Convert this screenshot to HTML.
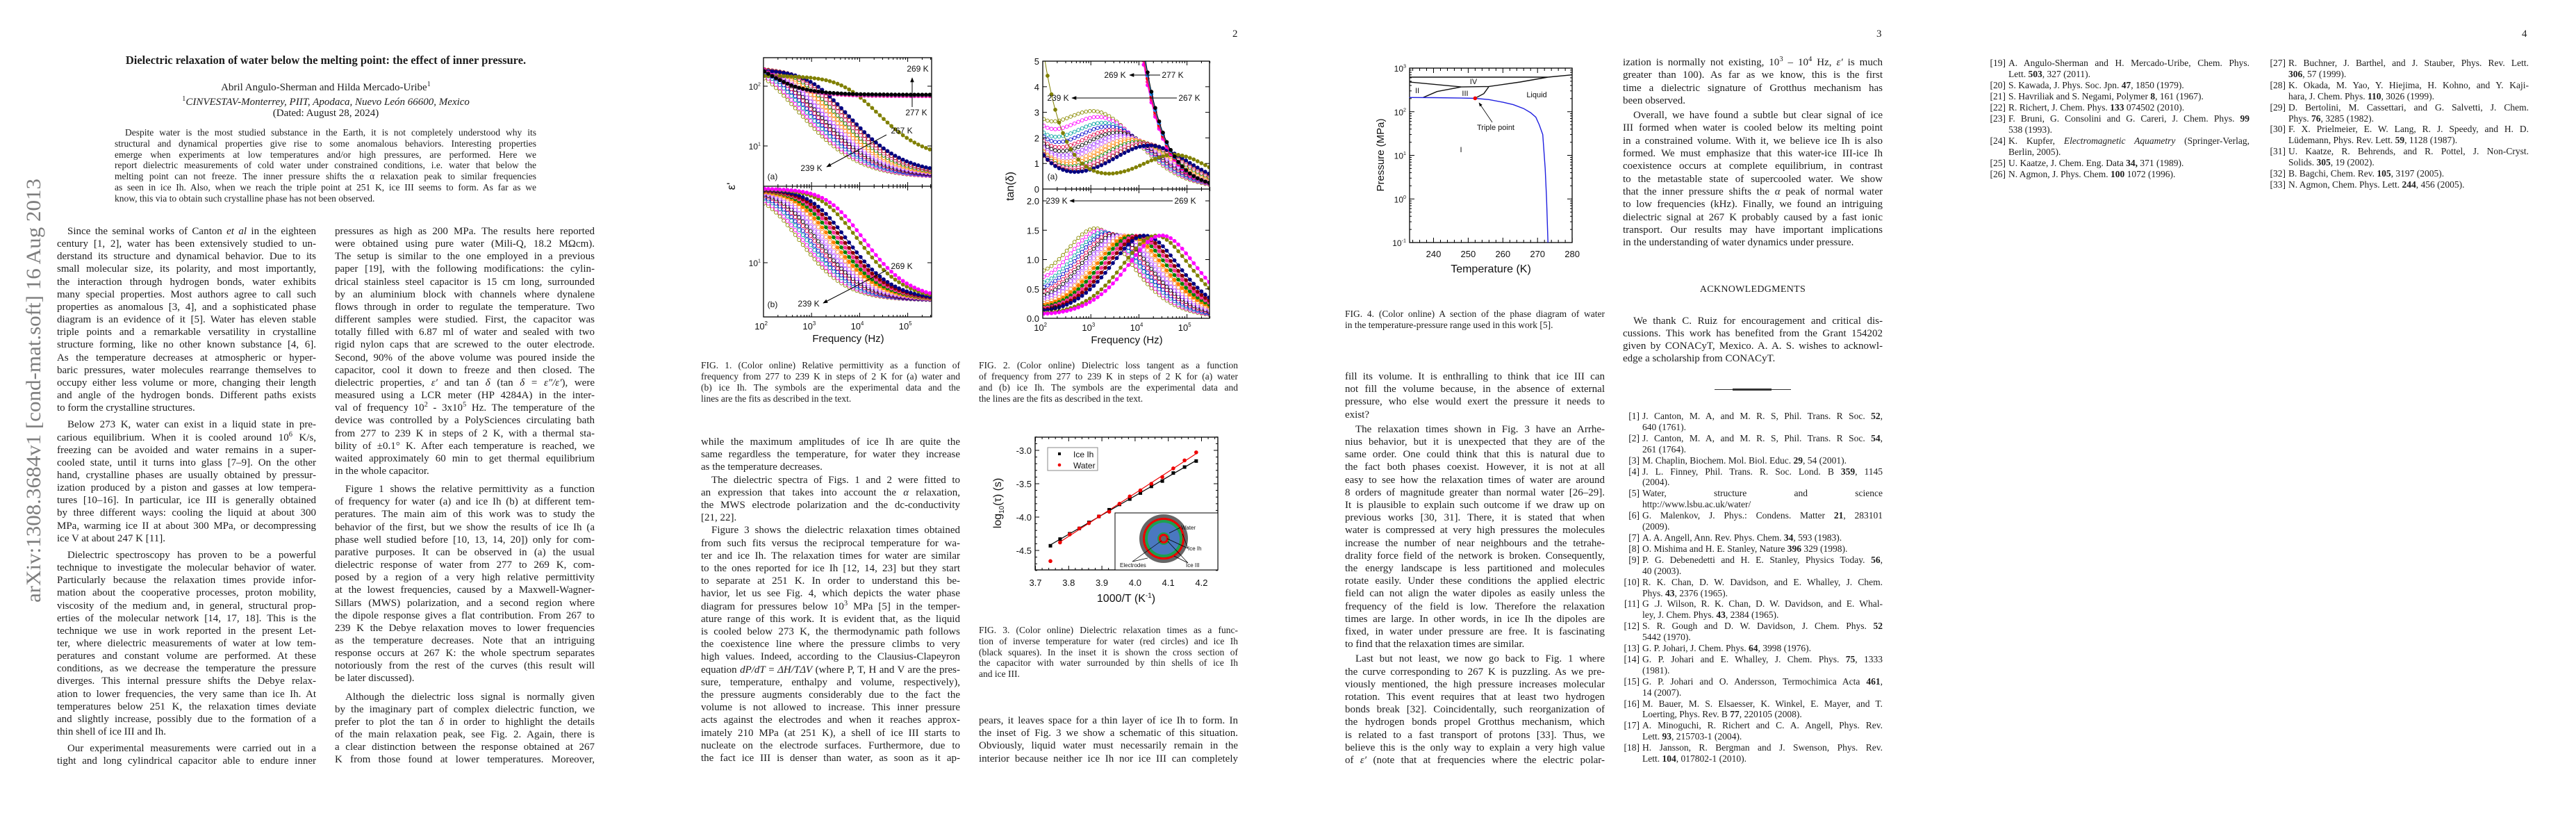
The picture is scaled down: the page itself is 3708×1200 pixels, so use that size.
<!DOCTYPE html>
<html><head><meta charset="utf-8"><title>Dielectric relaxation of water below the melting point</title>
<style>
body{margin:0;width:3708px;height:1200px;background:#fff;position:relative;overflow:hidden;font-family:"Liberation Serif",serif;color:#1c1c1c}
.col{position:absolute}
.col .p>div,.ref>div{white-space:nowrap;text-align:justify;text-align-last:justify;overflow:hidden}
.col .p>div.e,.ref>div.e{text-align-last:left}
.col .p>div.i{text-indent:15px}
.body{font-size:15px;line-height:18.15px}
.cap{font-size:13.5px;line-height:16px}
.refs{font-size:13.5px;line-height:15.9px}
.ref{position:relative;padding-left:28px}
.ref .n{position:absolute;left:0;top:0;width:24px;text-align:right}
.abs{position:absolute;white-space:nowrap}
sup{font-size:70%;line-height:0}
#charts{position:absolute;left:0;top:0}
#charts text{font-family:"Liberation Sans",sans-serif;fill:#111}
</style></head><body>

<svg style="position:absolute;left:0;top:0" width="90" height="1200">
<text x="0" y="0" transform="translate(58,867) rotate(-90)" font-family="Liberation Serif" font-size="30" fill="#7d7d7d" textLength="610" lengthAdjust="spacingAndGlyphs">arXiv:1308.3684v1  [cond-mat.soft]  16 Aug 2013</text>
</svg>

<div class="abs" style="left:0;width:938px;text-align:center;top:77px;font-size:16.5px;font-weight:bold">Dielectric relaxation of water below the melting point: the effect of inner pressure.</div>
<div class="abs" style="left:0;width:938px;text-align:center;top:118px;font-size:15px">Abril Angulo-Sherman and Hilda Mercado-Uribe<sup>1</sup></div>
<div class="abs" style="left:0;width:938px;text-align:center;top:139px;font-size:15px"><sup>1</sup><i>CINVESTAV-Monterrey, PIIT, Apodaca, Nuevo León 66600, Mexico</i></div>
<div class="abs" style="left:0;width:938px;text-align:center;top:155px;font-size:15px">(Dated: August 28, 2024)</div>

<div class="col" style="left:165px;top:183px;width:607px;font-size:13.5px;line-height:15.8px"><div class="p">
<div class="i">Despite water is the most studied substance in the Earth, it is not completely understood why its</div>
<div>structural and dynamical properties give rise to some anomalous behaviors. Interesting properties</div>
<div>emerge when experiments at low temperatures and/or high pressures, are performed. Here we</div>
<div>report dielectric measurements of cold water under constrained conditions, i.e. water that below the</div>
<div>melting point can not freeze. The inner pressure shifts the α relaxation peak to similar frequencies</div>
<div>as seen in ice Ih. Also, when we reach the triple point at 251 K, ice III seems to form. As far as we</div>
<div class="e">know, this via to obtain such crystalline phase has not been observed.</div>
</div></div>

<div class="col body" style="left:82px;top:324px;width:373px">
<div class="p">
<div class="i">Since the seminal works of Canton <i>et al</i> in the eighteen</div>
<div>century [1, 2], water has been extensively studied to un-</div>
<div>derstand its structure and dynamical behavior. Due to its</div>
<div>small molecular size, its polarity, and most importantly,</div>
<div>the interaction through hydrogen bonds, water exhibits</div>
<div>many special properties. Most authors agree to call such</div>
<div>properties as anomalous [3, 4], and a sophisticated phase</div>
<div>diagram is an evidence of it [5]. Water has eleven stable</div>
<div>triple points and a remarkable versatility in crystalline</div>
<div>structure forming, like no other known substance [4, 6].</div>
<div>As the temperature decreases at atmospheric or hyper-</div>
<div>baric pressures, water molecules rearrange themselves to</div>
<div>occupy either less volume or more, changing their length</div>
<div>and angle of the hydrogen bonds. Different paths exists</div>
<div class="e">to form the crystalline structures.</div></div>
<div class="p" style="margin-top:6px">
<div class="i">Below 273 K, water can exist in a liquid state in pre-</div>
<div>carious equilibrium. When it is cooled around 10<sup>6</sup> K/s,</div>
<div>freezing can be avoided and water remains in a super-</div>
<div>cooled state, until it turns into glass [7–9]. On the other</div>
<div>hand, crystalline phases are usually obtained by pressur-</div>
<div>ization produced by a piston and gasses at low tempera-</div>
<div>tures [10–16]. In particular, ice III is generally obtained</div>
<div>by three different ways: cooling the liquid at about 300</div>
<div>MPa, warming ice II at about 300 MPa, or decompressing</div>
<div class="e">ice V at about 247 K [11].</div></div>
<div class="p" style="margin-top:6px">
<div class="i">Dielectric spectroscopy has proven to be a powerful</div>
<div>technique to investigate the molecular behavior of water.</div>
<div>Particularly because the relaxation times provide infor-</div>
<div>mation about the cooperative processes, proton mobility,</div>
<div>viscosity of the medium and, in general, structural prop-</div>
<div>erties of the molecular network [14, 17, 18]. This is the</div>
<div>technique we use in work reported in the present Let-</div>
<div>ter, where dielectric measurements of water at low tem-</div>
<div>peratures and constant volume are performed. At these</div>
<div>conditions, as we decrease the temperature the pressure</div>
<div>diverges. This internal pressure shifts the Debye relax-</div>
<div>ation to lower frequencies, the very same than ice Ih. At</div>
<div>temperatures below 251 K, the relaxation times deviate</div>
<div>and slightly increase, possibly due to the formation of a</div>
<div class="e">thin shell of ice III and Ih.</div></div>
<div class="p" style="margin-top:6px">
<div class="i">Our experimental measurements were carried out in a</div>
<div>tight and long cylindrical capacitor able to endure inner</div></div>
</div>

<div class="col body" style="left:482px;top:324px;width:374px">
<div class="p">
<div>pressures as high as 200 MPa. The results here reported</div>
<div>were obtained using pure water (Mili-Q, 18.2 MΩcm).</div>
<div>The setup is similar to the one employed in a previous</div>
<div>paper [19], with the following modifications: the cylin-</div>
<div>drical stainless steel capacitor is 15 cm long, surrounded</div>
<div>by an aluminium block with channels where dynalene</div>
<div>flows through in order to regulate the temperature. Two</div>
<div>different samples were studied. First, the capacitor was</div>
<div>totally filled with 6.87 ml of water and sealed with two</div>
<div>rigid nylon caps that are screwed to the outer electrode.</div>
<div>Second, 90% of the above volume was poured inside the</div>
<div>capacitor, cool it down to freeze and then closed. The</div>
<div>dielectric properties, <i>ε′</i> and tan <i>δ</i> (tan <i>δ</i> = <i>ε″/ε′</i>), were</div>
<div>measured using a LCR meter (HP 4284A) in the inter-</div>
<div>val of frequency 10<sup>2</sup> - 3x10<sup>5</sup> Hz. The temperature of the</div>
<div>device was controlled by a PolySciences circulating bath</div>
<div>from 277 to 239 K in steps of 2 K, with a thermal sta-</div>
<div>bility of ±0.1° K. After each temperature is reached, we</div>
<div>waited approximately 60 min to get thermal equilibrium</div>
<div class="e">in the whole capacitor.</div></div>
<div class="p" style="margin-top:8px">
<div class="i">Figure 1 shows the relative permittivity as a function</div>
<div>of frequency for water (a) and ice Ih (b) at different tem-</div>
<div>peratures. The main aim of this work was to study the</div>
<div>behavior of the first, but we show the results of ice Ih (a</div>
<div>phase well studied before [10, 13, 14, 20]) only for com-</div>
<div>parative purposes. It can be observed in (a) the usual</div>
<div>dielectric response of water from 277 to 269 K, com-</div>
<div>posed by a region of a very high relative permittivity</div>
<div>at the lowest frequencies, caused by a Maxwell-Wagner-</div>
<div>Sillars (MWS) polarization, and a second region where</div>
<div>the dipole response gives a flat contribution. From 267 to</div>
<div>239 K the Debye relaxation moves to lower frequencies</div>
<div>as the temperature decreases. Note that an intriguing</div>
<div>response occurs at 267 K: the whole spectrum separates</div>
<div>notoriously from the rest of the curves (this result will</div>
<div class="e">be later discussed).</div></div>
<div class="p" style="margin-top:8px">
<div class="i">Although the dielectric loss signal is normally given</div>
<div>by the imaginary part of complex dielectric function, we</div>
<div>prefer to plot the tan <i>δ</i> in order to highlight the details</div>
<div>of the main relaxation peak, see Fig. 2. Again, there is</div>
<div>a clear distinction between the response obtained at 267</div>
<div>K from those found at lower temperatures. Moreover,</div></div>
</div>

<div class="abs" style="left:1774px;top:41px;font-size:15px">2</div>
<div class="abs" style="left:2701px;top:41px;font-size:15px">3</div>
<div class="abs" style="left:3630px;top:41px;font-size:15px">4</div>

<div class="col cap" style="left:1009px;top:518px;width:373px"><div class="p">
<div>FIG. 1. (Color online) Relative permittivity as a function of</div>
<div>frequency from 277 to 239 K in steps of 2 K for (a) water and</div>
<div>(b) ice Ih. The symbols are the experimental data and the</div>
<div class="e">lines are the fits as described in the text.</div></div></div>
<div class="col cap" style="left:1409px;top:518px;width:373px"><div class="p">
<div>FIG. 2. (Color online) Dielectric loss tangent as a function</div>
<div>of frequency from 277 to 239 K in steps of 2 K for (a) water</div>
<div>and (b) ice Ih. The symbols are the experimental data and</div>
<div class="e">the lines are the fits as described in the text.</div></div></div>

<div class="col body" style="left:1009px;top:627px;width:373px;line-height:18.2px">
<div class="p">
<div>while the maximum amplitudes of ice Ih are quite the</div>
<div>same regardless the temperature, for water they increase</div>
<div class="e">as the temperature decreases.</div></div>
<div class="p">
<div class="i">The dielectric spectra of Figs. 1 and 2 were fitted to</div>
<div>an expression that takes into account the <i>α</i> relaxation,</div>
<div>the MWS electrode polarization and the dc-conductivity</div>
<div class="e">[21, 22].</div></div>
<div class="p">
<div class="i">Figure 3 shows the dielectric relaxation times obtained</div>
<div>from such fits versus the reciprocal temperature for wa-</div>
<div>ter and ice Ih. The relaxation times for water are similar</div>
<div>to the ones reported for ice Ih [12, 14, 23] but they start</div>
<div>to separate at 251 K. In order to understand this be-</div>
<div>havior, let us see Fig. 4, which depicts the water phase</div>
<div>diagram for pressures below 10<sup>3</sup> MPa [5] in the temper-</div>
<div>ature range of this work. It is evident that, as the liquid</div>
<div>is cooled below 273 K, the thermodynamic path follows</div>
<div>the coexistence line where the pressure climbs to very</div>
<div>high values. Indeed, according to the Clausius-Clapeyron</div>
<div>equation <i>dP/dT</i> = <i>ΔH/TΔV</i> (where P, T, H and V are the pres-</div>
<div>sure, temperature, enthalpy and volume, respectively),</div>
<div>the pressure augments considerably due to the fact the</div>
<div>volume is not allowed to increase. This inner pressure</div>
<div>acts against the electrodes and when it reaches approx-</div>
<div>imately 210 MPa (at 251 K), a shell of ice III starts to</div>
<div>nucleate on the electrode surfaces. Furthermore, due to</div>
<div>the fact ice III is denser than water, as soon as it ap-</div></div>
</div>

<div class="col cap" style="left:1409px;top:899px;width:373px;line-height:15.8px"><div class="p">
<div>FIG. 3. (Color online) Dielectric relaxation times as a func-</div>
<div>tion of inverse temperature for water (red circles) and ice Ih</div>
<div>(black squares). In the inset it is shown the cross section of</div>
<div>the capacitor with water surrounded by thin shells of ice Ih</div>
<div class="e">and ice III.</div></div></div>

<div class="col body" style="left:1409px;top:1028px;width:373px;line-height:18.2px"><div class="p">
<div>pears, it leaves space for a thin layer of ice Ih to form. In</div>
<div>the inset of Fig. 3 we show a schematic of this situation.</div>
<div>Obviously, liquid water must necessarily remain in the</div>
<div>interior because neither ice Ih nor ice III can completely</div></div></div>

<div class="col cap" style="left:1936px;top:444px;width:374px"><div class="p">
<div>FIG. 4. (Color online) A section of the phase diagram of water</div>
<div class="e">in the temperature-pressure range used in this work [5].</div></div></div>

<div class="col body" style="left:1936px;top:533px;width:374px;line-height:18.2px">
<div class="p">
<div>fill its volume. It is enthralling to think that ice III can</div>
<div>not fill the volume because, in the absence of external</div>
<div>pressure, who else would exert the pressure it needs to</div>
<div class="e">exist?</div></div>
<div class="p" style="margin-top:3px">
<div class="i">The relaxation times shown in Fig. 3 have an Arrhe-</div>
<div>nius behavior, but it is unexpected that they are of the</div>
<div>same order. One could think that this is natural due to</div>
<div>the fact both phases coexist. However, it is not at all</div>
<div>easy to see how the relaxation times of water are around</div>
<div>8 orders of magnitude greater than normal water [26–29].</div>
<div>It is plausible to explain such outcome if we draw up on</div>
<div>previous works [30, 31]. There, it is stated that when</div>
<div>water is compressed at very high pressures the molecules</div>
<div>increase the number of near neighbours and the tetrahe-</div>
<div>drality force field of the network is broken. Consequently,</div>
<div>the energy landscape is less partitioned and molecules</div>
<div>rotate easily. Under these conditions the applied electric</div>
<div>field can not align the water dipoles as easily unless the</div>
<div>frequency of the field is low. Therefore the relaxation</div>
<div>times are large. In other words, in ice Ih the dipoles are</div>
<div>fixed, in water under pressure are free. It is fascinating</div>
<div class="e">to find that the relaxation times are similar.</div></div>
<div class="p" style="margin-top:3px">
<div class="i">Last but not least, we now go back to Fig. 1 where</div>
<div>the curve corresponding to 267 K is puzzling. As we pre-</div>
<div>viously mentioned, the high pressure increases molecular</div>
<div>rotation. This event requires that at least two hydrogen</div>
<div>bonds break [32]. Coincidentally, such reorganization of</div>
<div>the hydrogen bonds propel Grotthus mechanism, which</div>
<div>is related to a fast transport of protons [33]. Thus, we</div>
<div>believe this is the only way to explain a very high value</div>
<div>of <i>ε′</i> (note that at frequencies where the electric polar-</div></div>
</div>

<div class="col body" style="left:2336px;top:81px;width:374px;line-height:18.3px">
<div class="p">
<div>ization is normally not existing, 10<sup>3</sup> – 10<sup>4</sup> Hz, <i>ε′</i> is much</div>
<div>greater than 100). As far as we know, this is the first</div>
<div>time a dielectric signature of Grotthus mechanism has</div>
<div class="e">been observed.</div></div>
<div class="p" style="margin-top:3px">
<div class="i">Overall, we have found a subtle but clear signal of ice</div>
<div>III formed when water is cooled below its melting point</div>
<div>in a constrained volume. With it, we believe ice Ih is also</div>
<div>formed. We must emphasize that this water-ice III-ice Ih</div>
<div>coexistence occurs at complete equilibrium, in contrast</div>
<div>to the metastable state of supercooled water. We show</div>
<div>that the inner pressure shifts the <i>α</i> peak of normal water</div>
<div>to low frequencies (kHz). Finally, we found an intriguing</div>
<div>dielectric signal at 267 K probably caused by a fast ionic</div>
<div>transport. Our results may have important implications</div>
<div class="e">in the understanding of water dynamics under pressure.</div></div>
</div>

<div class="abs" style="left:2336px;width:374px;text-align:center;top:409px;font-size:14px;letter-spacing:0.3px">ACKNOWLEDGMENTS</div>
<div class="col body" style="left:2336px;top:453px;width:374px;line-height:18px"><div class="p">
<div class="i">We thank C. Ruiz for encouragement and critical dis-</div>
<div>cussions. This work has benefited from the Grant 154202</div>
<div>given by CONACyT, Mexico. A. A. S. wishes to acknowl-</div>
<div class="e">edge a scholarship from CONACyT.</div></div></div>
<div style="position:absolute;left:2468px;top:560px;width:110px;height:1px;background:#333"></div>
<div style="position:absolute;left:2494px;top:559px;width:56px;height:3px;background:#333"></div>

<div class="col refs" style="left:2336px;top:591px;width:374px">
<div class="ref"><span class="n">[1]</span><div>J. Canton, M. A, and M. R. S, Phil. Trans. R Soc. <b>52</b>,</div><div class="e">640 (1761).</div></div>
<div class="ref"><span class="n">[2]</span><div>J. Canton, M. A, and M. R. S, Phil. Trans. R Soc. <b>54</b>,</div><div class="e">261 (1764).</div></div>
<div class="ref"><span class="n">[3]</span><div class="e">M. Chaplin, Biochem. Mol. Biol. Educ. <b>29</b>, 54 (2001).</div></div>
<div class="ref"><span class="n">[4]</span><div>J. L. Finney, Phil. Trans. R. Soc. Lond. B <b>359</b>, 1145</div><div class="e">(2004).</div></div>
<div class="ref"><span class="n">[5]</span><div>Water, structure and science</div><div class="e">http://www.lsbu.ac.uk/water/</div></div>
<div class="ref"><span class="n">[6]</span><div>G. Malenkov, J. Phys.: Condens. Matter <b>21</b>, 283101</div><div class="e">(2009).</div></div>
<div class="ref"><span class="n">[7]</span><div class="e">A. A. Angell, Ann. Rev. Phys. Chem. <b>34</b>, 593 (1983).</div></div>
<div class="ref"><span class="n">[8]</span><div class="e">O. Mishima and H. E. Stanley, Nature <b>396</b> 329 (1998).</div></div>
<div class="ref"><span class="n">[9]</span><div>P. G. Debenedetti and H. E. Stanley, Physics Today. <b>56</b>,</div><div class="e">40 (2003).</div></div>
<div class="ref"><span class="n">[10]</span><div>R. K. Chan, D. W. Davidson, and E. Whalley, J. Chem.</div><div class="e">Phys. <b>43</b>, 2376 (1965).</div></div>
<div class="ref"><span class="n">[11]</span><div>G .J. Wilson, R. K. Chan, D. W. Davidson, and E. Whal-</div><div class="e">ley, J. Chem. Phys. <b>43</b>, 2384 (1965).</div></div>
<div class="ref"><span class="n">[12]</span><div>S. R. Gough and D. W. Davidson, J. Chem. Phys. <b>52</b></div><div class="e">5442 (1970).</div></div>
<div class="ref"><span class="n">[13]</span><div class="e">G. P. Johari, J. Chem. Phys. <b>64</b>, 3998 (1976).</div></div>
<div class="ref"><span class="n">[14]</span><div>G. P. Johari and E. Whalley, J. Chem. Phys. <b>75</b>, 1333</div><div class="e">(1981).</div></div>
<div class="ref"><span class="n">[15]</span><div>G. P. Johari and O. Andersson, Termochimica Acta <b>461</b>,</div><div class="e">14 (2007).</div></div>
<div class="ref"><span class="n">[16]</span><div>M. Bauer, M. S. Elsaesser, K. Winkel, E. Mayer, and T.</div><div class="e">Loerting, Phys. Rev. B <b>77</b>, 220105 (2008).</div></div>
<div class="ref"><span class="n">[17]</span><div>A. Minoguchi, R. Richert and C. A. Angell, Phys. Rev.</div><div class="e">Lett. <b>93</b>, 215703-1 (2004).</div></div>
<div class="ref"><span class="n">[18]</span><div>H. Jansson, R. Bergman and J. Swenson, Phys. Rev.</div><div class="e">Lett. <b>104</b>, 017802-1 (2010).</div></div>
</div>

<div class="col refs" style="left:2863px;top:83px;width:375px;line-height:16px">
<div class="ref"><span class="n">[19]</span><div>A. Angulo-Sherman and H. Mercado-Uribe, Chem. Phys.</div><div class="e">Lett. <b>503</b>, 327 (2011).</div></div>
<div class="ref"><span class="n">[20]</span><div class="e">S. Kawada, J. Phys. Soc. Jpn. <b>47</b>, 1850 (1979).</div></div>
<div class="ref"><span class="n">[21]</span><div class="e">S. Havriliak and S. Negami, Polymer <b>8</b>, 161 (1967).</div></div>
<div class="ref"><span class="n">[22]</span><div class="e">R. Richert, J. Chem. Phys. <b>133</b> 074502 (2010).</div></div>
<div class="ref"><span class="n">[23]</span><div>F. Bruni, G. Consolini and G. Careri, J. Chem. Phys. <b>99</b></div><div class="e">538 (1993).</div></div>
<div class="ref"><span class="n">[24]</span><div>K. Kupfer, <i>Electromagnetic Aquametry</i> (Springer-Verlag,</div><div class="e">Berlin, 2005).</div></div>
<div class="ref"><span class="n">[25]</span><div class="e">U. Kaatze, J. Chem. Eng. Data <b>34,</b> 371 (1989).</div></div>
<div class="ref"><span class="n">[26]</span><div class="e">N. Agmon, J. Phys. Chem. <b>100</b> 1072 (1996).</div></div>
</div>
<div class="col refs" style="left:3266px;top:83px;width:374px;line-height:15.9px">
<div class="ref"><span class="n">[27]</span><div>R. Buchner, J. Barthel, and J. Stauber, Phys. Rev. Lett.</div><div class="e"><b>306</b>, 57 (1999).</div></div>
<div class="ref"><span class="n">[28]</span><div>K. Okada, M. Yao, Y. Hiejima, H. Kohno, and Y. Kaji-</div><div class="e">hara, J. Chem. Phys. <b>110</b>, 3026 (1999).</div></div>
<div class="ref"><span class="n">[29]</span><div>D. Bertolini, M. Cassettari, and G. Salvetti, J. Chem.</div><div class="e">Phys. <b>76</b>, 3285 (1982).</div></div>
<div class="ref"><span class="n">[30]</span><div>F. X. Prielmeier, E. W. Lang, R. J. Speedy, and H. D.</div><div class="e">Lüdemann, Phys. Rev. Lett. <b>59</b>, 1128 (1987).</div></div>
<div class="ref"><span class="n">[31]</span><div>U. Kaatze, R. Behrends, and R. Pottel, J. Non-Cryst.</div><div class="e">Solids. <b>305</b>, 19 (2002).</div></div>
<div class="ref"><span class="n">[32]</span><div class="e">B. Bagchi, Chem. Rev. <b>105</b>, 3197 (2005).</div></div>
<div class="ref"><span class="n">[33]</span><div class="e">N. Agmon, Chem. Phys. Lett. <b>244</b>, 456 (2005).</div></div>
</div>

<svg id="charts" width="3708" height="1200" xmlns="http://www.w3.org/2000/svg">
<defs>
<clipPath id="c1a"><rect x="1099" y="83" width="242" height="185"/></clipPath>
<clipPath id="c1b"><rect x="1099" y="268" width="242" height="188"/></clipPath>
<clipPath id="c2a"><rect x="1501" y="88" width="240" height="184"/></clipPath>
<clipPath id="c2b"><rect x="1501" y="272" width="240" height="186"/></clipPath>
<marker id="ah" viewBox="0 0 10 10" refX="9" refY="5" markerWidth="7" markerHeight="7" orient="auto"><path d="M0,1 L10,5 L0,9 Z" fill="#000"/></marker>
</defs>
</svg>

<script>
// ---------- Fig 1/2 data (fit parameters per temperature) ----------
const waterTemps = [239,241,243,245,247,249,251,253,255,257,259,261,263,265,267,269,271,273,275,277];
const waterRelaxFreq = [110,135,165,200,240,290,350,420,510,620,760,920,1120,1400,7600,60,60,60,60,60];
const waterEpsStatic = [260,255,250,245,240,235,230,225,220,215,210,205,200,190,150,420,410,400,390,380];
const waterEpsInf = [3.0,3.0,3.05,3.05,3.1,3.1,3.15,3.15,3.2,3.2,3.25,3.3,3.3,3.4,6.0,68,69,70,71,72];
const waterCond = [290,290,280,280,270,270,260,260,250,250,240,240,230,230,820,42000,44000,46000,48000,50000];
const iceTemps = [239,241,243,245,247,249,251,253,255,257,259,261,263,265,267,269];
const iceRelaxFreq = [180,215,255,300,355,420,500,590,700,830,990,1180,1400,1700,2900,3800];
const iceEpsStatic = [88,88,89,89,90,90,90,91,91,91,92,92,92,93,93,94];
const iceEpsInf = [3.2,3.2,3.2,3.2,3.2,3.2,3.2,3.2,3.2,3.2,3.2,3.2,3.2,3.2,3.2,3.2];
const iceCond = [20,18,16,14,12,10,9,8,7,6,5,5,4,4,3,3];
const freqTicks = ["2","3","4","5"];
const fig1aTicks = [1,2];
const fig1bTicks = [1,2];
const fig2aTicks = [0,1,2,3,4,5];
const fig2bTicks = [0,0.5,1.0,1.5,2.0];
// ---------- Fig 3 data ----------
const invTemp = [3.745,3.774,3.803,3.832,3.861,3.891,3.922,3.953,3.984,4.016,4.049,4.082,4.115,4.149,4.184];
const logTauIce = [-4.43,-4.33,-4.25,-4.17,-4.08,-3.99,-3.89,-3.81,-3.73,-3.64,-3.54,-3.46,-3.34,-3.25,-3.16];
const logTauWater = [-4.66,-4.38,-4.26,-4.17,-4.09,-3.99,-3.92,-3.80,-3.69,-3.60,-3.50,-3.40,-3.27,-3.15,-3.03];
const fig3XTicks = [3.7,3.8,3.9,4.0,4.1,4.2];
const fig3YTicks = [-3.0,-3.5,-4.0,-4.5];
// ---------- Fig 4 data ----------
const meltT = [233,240,248,252,256,260,263,266,268,269.5,270.5,271.5,272.2,272.6,273];
const meltP = [212,210,206,203,190,165,145,118,95,75,50,30,5,1,0.1];
const phaseLines = [
  {T:[233,273,280], P:[620,620,700]},
  {T:[233,248,256], P:[480,370,380]},
  {T:[237,241,248], P:[212,290,370]},
  {T:[252,254.5,256], P:[205,260,380]},
  {T:[256,265,273], P:[380,480,620]}
];
const fig4XTicks = [240,250,260,270,280];
const fig4YTicks = [-1,0,1,2,3];

const svg = document.getElementById('charts');
const NS = 'http://www.w3.org/2000/svg';
function mk(tag, attrs, parent){const e=document.createElementNS(NS,tag);for(const k in attrs)e.setAttribute(k,attrs[k]);(parent||svg).appendChild(e);return e;}
function txt(x,y,s,size,anchor,parent){const t=mk('text',{x:x,y:y,'font-size':size,'text-anchor':anchor||'middle'},parent);t.textContent=s;return t;}
function supLabel(x,y,base,exp,size,parent){const t=mk('text',{x:x,y:y,'font-size':size,'text-anchor':'end'},parent);t.textContent=base;const s=mk('tspan',{dy:-size*0.45,'font-size':size*0.6},t);s.textContent=exp;return t;}

function colecole(f, fr, es, ei, cond, a){
  const x=Math.pow(f/fr,a), c=Math.cos(a*Math.PI/2), s=Math.sin(a*Math.PI/2);
  const dr=1+x*c, di=x*s, m=dr*dr+di*di, d=es-ei;
  return {re: ei+d*dr/m, im: d*di/m + cond*100/f};
}

const palette = ['#8a8a00','#ff00ff','#00a0a0','#0000cc','#e0004a','#000000','#9b30ff','#cc66ff','#ff9933','#ff7f00','#008000','#ff3399','#8b0000','#000080','#808000','#ff00ff','#ff1493','#ee0000','#1e90ff','#000000'];

function freqX(x0){return lf=>x0+(lf-2)*69.2;}

function drawCurves(g, fx, fy, temps, fr, es, ei, cond, a, kind, clip, tag){
  for(let k=0;k<temps.length;k++){
    const col=palette[k%palette.length];
    let d='';
    for(let lf=2;lf<=5.48;lf+=0.02){
      const e=colecole(Math.pow(10,lf),fr[k],es[k],ei[k],cond[k],a);
      const v=kind==='eps'?e.re:e.im/e.re;
      d+=(d?'L':'M')+fx(lf).toFixed(1)+','+fy(v).toFixed(1);
    }
    const gg=mk('g',{'clip-path':'url(#'+clip+')'},g);
    
    
    mk('path',{d:d,fill:'none',stroke:col,'stroke-width':1},gg);
    const filled = k>=temps.length-7;
    for(let lf=2.02;lf<=5.48;lf+=0.08){
      const e=colecole(Math.pow(10,lf),fr[k],es[k],ei[k],cond[k],a);
      const v=kind==='eps'?e.re:e.im/e.re;
      const m=mk('circle',{cx:fx(lf).toFixed(1),cy:fy(v).toFixed(1),r:2.4,fill:filled?col:'#fff',stroke:col,'stroke-width':0.9},gg);
      
      
    }
  }
}

function logXTicks(g,fx,yTop,yBot){
  for(let d=2;d<=5;d++){for(let k=1;k<10;k++){const lf=d+Math.log10(k);if(lf>5.48)break;const x=fx(lf);const L=k===1?6:3;
    mk('line',{x1:x,y1:yBot,x2:x,y2:yBot-L,stroke:'#000','stroke-width':1},g);
    mk('line',{x1:x,y1:yTop,x2:x,y2:yTop+L,stroke:'#000','stroke-width':1},g);}}
}

// ---------- FIG 1 ----------
(function(){
  const g=mk('g',{});
  
  
  const fx=freqX(1099);
  const fyA=v=>124-(Math.log10(Math.max(v,1e-3))-2)*86;
  const fyB=v=>268-(Math.log10(Math.max(v,1e-3))-2)*110;
  drawCurves(g,fx,fyA,waterTemps,waterRelaxFreq,waterEpsStatic,waterEpsInf,waterCond,0.8,'eps','c1a','fig1a-water');
  drawCurves(g,fx,fyB,iceTemps,iceRelaxFreq,iceEpsStatic,iceEpsInf,iceCond,0.82,'eps','c1b','fig1b-ice');
  const fr=mk('rect',{x:1099,y:83,width:242,height:373,fill:'none',stroke:'#000','stroke-width':1.3},g);
  
  mk('line',{x1:1099,y1:268,x2:1341,y2:268,stroke:'#000','stroke-width':1.3},g);
  logXTicks(g,fx,83,268); logXTicks(g,fx,268,456);
  fig1aTicks.forEach(p=>{const y=fyA(Math.pow(10,p));mk('line',{x1:1099,y1:y,x2:1105,y2:y,stroke:'#000'},g);mk('line',{x1:1341,y1:y,x2:1335,y2:y,stroke:'#000'},g);supLabel(1095,y+5,'10',String(p),12,g);});
  fig1bTicks.forEach(p=>{const y=fyB(Math.pow(10,p));mk('line',{x1:1099,y1:y,x2:1105,y2:y,stroke:'#000'},g);mk('line',{x1:1341,y1:y,x2:1335,y2:y,stroke:'#000'},g);if(p<2)supLabel(1095,y+5,'10',String(p),12,g);});
  freqTicks.forEach(t=>{const x=fx(+t);supLabel(x+6,474,'10',t,13,g);});
  const xt=txt(1221,492,'Frequency (Hz)',15,'middle',g);
  const yt=txt(0,0,"ε'",17,'middle',g);yt.setAttribute('transform','translate(1058,268) rotate(-90)');
  const ann=[['269 K',1321,103],['277 K',1319,166],['267 K',1298,192],['239 K',1168,246],['(a)',1112,258],['269 K',1298,387],['239 K',1164,441],['(b)',1112,442]];
  ann.forEach(a=>{const t=txt(a[1],a[2],a[0],12,'middle',g);});
  mk('line',{x1:1313,y1:154,x2:1313,y2:112,stroke:'#000','stroke-width':1,'marker-end':'url(#ah)'},g);
  mk('line',{x1:1276,y1:194,x2:1190,y2:240,stroke:'#000','stroke-width':1,'marker-end':'url(#ah)'},g);
  mk('line',{x1:1276,y1:389,x2:1185,y2:436,stroke:'#000','stroke-width':1,'marker-end':'url(#ah)'},g);
})();

// ---------- FIG 2 ----------
(function(){
  const g=mk('g',{});
  
  
  const fx=freqX(1501);
  const fyA=v=>272-v*36.8;
  const fyB=v=>458-v*84.5;
  drawCurves(g,fx,fyA,waterTemps,waterRelaxFreq,waterEpsStatic,waterEpsInf,waterCond,0.8,'tan','c2a','fig2a-water');
  drawCurves(g,fx,fyB,iceTemps,iceRelaxFreq,iceEpsStatic,iceEpsInf,iceCond,0.82,'tan','c2b','fig2b-ice');
  const fr=mk('rect',{x:1501,y:88,width:240,height:370,fill:'none',stroke:'#000','stroke-width':1.3},g);
  
  mk('line',{x1:1501,y1:272,x2:1741,y2:272,stroke:'#000','stroke-width':1.3},g);
  logXTicks(g,fx,88,272); logXTicks(g,fx,272,458);
  fig2aTicks.forEach(v=>{const y=fyA(v);mk('line',{x1:1501,y1:y,x2:1507,y2:y,stroke:'#000'},g);mk('line',{x1:1741,y1:y,x2:1735,y2:y,stroke:'#000'},g);txt(1496,y+5,String(v),13,'end',g);});
  fig2bTicks.forEach(v=>{const y=fyB(v);mk('line',{x1:1501,y1:y,x2:1507,y2:y,stroke:'#000'},g);mk('line',{x1:1741,y1:y,x2:1735,y2:y,stroke:'#000'},g);txt(1496,y+5,v.toFixed(1),13,'end',g);});
  freqTicks.forEach(t=>{const x=fx(+t);supLabel(x+6,476,'10',t,13,g);});
  const xt=txt(1622,494,'Frequency (Hz)',15,'middle',g);
  const yt=txt(0,0,'tan(δ)',16,'middle',g);yt.setAttribute('transform','translate(1459,268) rotate(-90)');
  const ann=[['269 K',1605,112],['277 K',1688,112],['239 K',1523,145],['267 K',1712,145],['(a)',1515,258],['239 K',1521,293],['269 K',1706,293],['(b)',1518,446]];
  ann.forEach(a=>{const t=txt(a[1],a[2],a[0],12,'middle',g);});
  mk('line',{x1:1670,y1:108,x2:1626,y2:108,stroke:'#000','marker-end':'url(#ah)'},g);
  mk('line',{x1:1694,y1:141,x2:1543,y2:141,stroke:'#000','marker-end':'url(#ah)'},g);
  mk('line',{x1:1688,y1:289,x2:1540,y2:289,stroke:'#000','marker-end':'url(#ah)'},g);
})();

// ---------- FIG 3 ----------
(function(){
  const g=mk('g',{});
  
  
  const fx=v=>1490.5+(v-3.7)*478;
  const fy=v=>648-(v+3.0)*96;
  const fr=mk('rect',{x:1490,y:629,width:263,height:191,fill:'none',stroke:'#000','stroke-width':1.3},g);
  
  for(let v=3.7;v<=4.251;v+=0.02){const x=fx(v);const maj=Math.abs(Math.round(v*10)-v*10)<1e-6;mk('line',{x1:x,y1:820,x2:x,y2:820-(maj?6:3),stroke:'#000'},g);mk('line',{x1:x,y1:629,x2:x,y2:629+(maj?6:3),stroke:'#000'},g);}
  for(let v=-2.8;v>=-4.8;v-=0.1){const y=fy(v);const maj=Math.abs(Math.round(v*2)-v*2)<1e-6;mk('line',{x1:1490,y1:y,x2:1490+(maj?6:3),y2:y,stroke:'#000'},g);mk('line',{x1:1753,y1:y,x2:1753-(maj?6:3),y2:y,stroke:'#000'},g);}
  fig3XTicks.forEach(v=>txt(fx(v),843,v.toFixed(1),13,'middle',g));
  fig3YTicks.forEach(v=>txt(1485,fy(v)+5,v.toFixed(1),13,'end',g));
  const yt=mk('text',{'font-size':16,'text-anchor':'middle',transform:'translate(1441,724) rotate(-90)'},g);
  
  yt.textContent='log';const s1=mk('tspan',{'font-size':10,dy:4},yt);s1.textContent='10';const s2=mk('tspan',{dy:-4},yt);s2.textContent='(τ) (s)';
  const xt=mk('text',{x:1621,y:866,'font-size':16,'text-anchor':'middle'},g);
  xt.textContent='1000/T (K';const s3=mk('tspan',{dy:-6,'font-size':10},xt);s3.textContent='-1';const s4=mk('tspan',{dy:6},xt);s4.textContent=')';
  function fit(xs,ys){const n=xs.length;let sx=0,sy=0,sxx=0,sxy=0;for(let i=0;i<n;i++){sx+=xs[i];sy+=ys[i];sxx+=xs[i]*xs[i];sxy+=xs[i]*ys[i];}const b=(n*sxy-sx*sy)/(n*sxx-sx*sx);return [b,(sy-b*sx)/n];}
  const fi=fit(invTemp,logTauIce);
  const fw=fit(invTemp.slice(1),logTauWater.slice(1));
  const xa=invTemp[0], xb=invTemp[invTemp.length-1];
  const li=mk('line',{x1:fx(xa),y1:fy(fi[0]*xa+fi[1]),x2:fx(xb),y2:fy(fi[0]*xb+fi[1]),stroke:'#000','stroke-width':1.2},g);
  
  const lw=mk('line',{x1:fx(invTemp[1]),y1:fy(fw[0]*invTemp[1]+fw[1]),x2:fx(xb),y2:fy(fw[0]*xb+fw[1]),stroke:'#e00','stroke-width':1.2},g);
  
  invTemp.forEach((x,i)=>{
    const p=mk('rect',{x:fx(x)-2.5,y:fy(logTauIce[i])-2.5,width:5,height:5,fill:'#000'},g);
    
    
    const q=mk('circle',{cx:fx(x),cy:fy(logTauWater[i]),r:2.8,fill:'#e00'},g);
    
    
  });
  const lg=mk('g',{},g);
  mk('rect',{x:1508,y:644,width:72,height:33,fill:'#fff',stroke:'#888'},lg);
  mk('rect',{x:1523,y:651,width:4,height:4,fill:'#000'},lg);txt(1545,658,'Ice Ih',12,'start',lg);
  mk('circle',{cx:1525,cy:669,r:2.3,fill:'#e00'},lg);txt(1545,674,'Water',12,'start',lg);
  const ins=mk('g',{},g);
  mk('rect',{x:1605,y:738,width:148,height:82,fill:'#fff',stroke:'#000'},ins);
  [[35,'#666'],[30,'#e00'],[27,'#1ca050'],[23,'#4a78c0'],[9,'#1ca050'],[7,'#e00'],[4,'#666']].forEach(c=>mk('circle',{cx:1675,cy:775,r:c[0],fill:c[1]},ins));
  txt(1700,762,'Water',8,'start',ins);txt(1710,792,'Ice Ih',8,'start',ins);txt(1612,816,'Electrodes',8,'start',ins);txt(1707,816,'Ice III',8,'start',ins);
  [[1699,759,1683,767],[1710,789,1680,775],[1710,789,1702,768],[1630,808,1672,778],[1630,808,1652,803],[1710,810,1690,800],[1710,810,1681,779]].forEach(l=>mk('line',{x1:l[0],y1:l[1],x2:l[2],y2:l[3],stroke:'#000','stroke-width':0.7},ins));
})();

// ---------- FIG 4 ----------
(function(){
  const g=mk('g',{});
  
  
  const fx=T=>2063.5+(T-240)*4.99;
  const fy=P=>349-(Math.log10(P)+1)*62.75;
  const fr=mk('rect',{x:2029,y:98,width:234,height:251,fill:'none',stroke:'#000','stroke-width':1.3},g);
  
  for(let T=234;T<=280;T+=2){const x=fx(T);const maj=T%10===0;mk('line',{x1:x,y1:349,x2:x,y2:349-(maj?7:4),stroke:'#000'},g);mk('line',{x1:x,y1:98,x2:x,y2:98+(maj?7:4),stroke:'#000'},g);}
  for(let d=-1;d<3;d++){for(let k=1;k<10;k++){const y=fy(k*Math.pow(10,d));const L=k===1?7:3;mk('line',{x1:2029,y1:y,x2:2029+L,y2:y,stroke:'#000'},g);mk('line',{x1:2263,y1:y,x2:2263-L,y2:y,stroke:'#000'},g);}}
  fig4XTicks.forEach(T=>txt(fx(T),370,String(T),13,'middle',g));
  fig4YTicks.forEach(p=>supLabel(2024,fy(Math.pow(10,p))+5,'10',String(p),12,g));
  let d='';phaseLines.forEach(l=>{l.T.forEach((T,i)=>{d+=(i?'L':'M')+fx(T).toFixed(1)+','+fy(l.P[i]).toFixed(1);});});
  const pl=mk('path',{d:d,fill:'none',stroke:'#111','stroke-width':1.4},g);
  
  let dm='';meltT.forEach((T,i)=>{dm+=(i?'L':'M')+fx(T).toFixed(1)+','+fy(meltP[i]).toFixed(1);});
  const ml=mk('path',{d:dm,fill:'none',stroke:'#2020e0','stroke-width':1.4},g);
  
  const tp=mk('circle',{cx:fx(252),cy:fy(203),r:2.8,fill:'#e00'},g);
  
  [['II',2040,134],['IV',2121,121],['III',2109,138],['Liquid',2212,140],['I',2103,219]].forEach(l=>{
    const t=txt(l[1],l[2],l[0],11,'middle',g);});
  txt(2153,187,'Triple point',11,'middle',g);
  mk('line',{x1:2148,y1:176,x2:2129,y2:148,stroke:'#000','stroke-width':0.8,'marker-end':'url(#ah)'},g);
  const yt=txt(0,0,'Pressure (MPa)',15,'middle',g);yt.setAttribute('transform','translate(1992,223) rotate(-90)');
  const xt=txt(2146,392,'Temperature (K)',16,'middle',g);
})();

// shrink any line that overflows its column
document.querySelectorAll('.col .p>div, .ref>div').forEach(d=>{
  let fs=parseFloat(getComputedStyle(d).fontSize);
  while(d.scrollWidth>d.clientWidth+1 && fs>9){fs-=0.25;d.style.fontSize=fs+'px';}
});
</script>
</body></html>
